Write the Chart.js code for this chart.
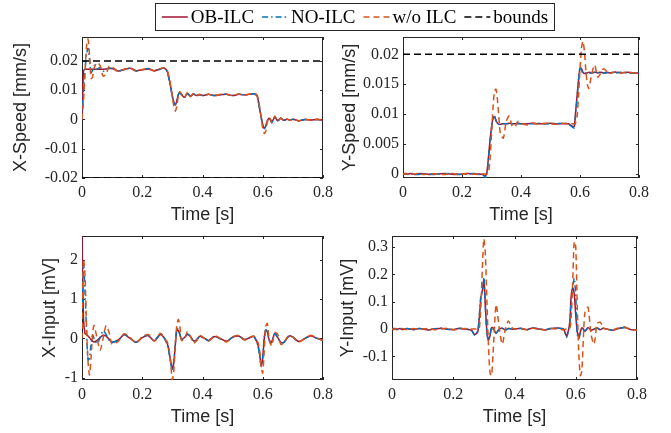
<!DOCTYPE html>
<html>
<head>
<meta charset="utf-8">
<script src="https://cdn.jsdelivr.net/npm/chart.js@4.4.1/dist/chart.umd.min.js"></script>
<style>
  html, body { margin: 0; padding: 0; background: #fff; }
  #wrap { position: relative; width: 671px; height: 433px; }
  canvas { position: absolute; left: 0; top: 0; }
</style>
</head>
<body>
<div id="wrap">
  <canvas id="xs" width="671" height="433"></canvas>
  <canvas id="ys" width="671" height="433"></canvas>
  <canvas id="xi" width="671" height="433"></canvas>
  <canvas id="yi" width="671" height="433"></canvas>
</div>
<script>
// time samples [s] (denser around the steps at 0, 0.3 and 0.6)
const t = [0, 0.005, 0.01, 0.015, 0.02, 0.025, 0.03, 0.035, 0.04, 0.05, 0.06, 0.07, 0.08, 0.09, 0.1,
  0.12, 0.14, 0.16, 0.18, 0.2, 0.22, 0.24, 0.26,
  0.27, 0.28, 0.285, 0.29, 0.295, 0.3, 0.305, 0.31, 0.315, 0.32, 0.325, 0.33, 0.34, 0.35, 0.36, 0.37, 0.38, 0.39, 0.4,
  0.42, 0.44, 0.46, 0.48, 0.5, 0.52, 0.54, 0.56,
  0.57, 0.58, 0.585, 0.59, 0.595, 0.6, 0.605, 0.61, 0.615, 0.62, 0.625, 0.63, 0.64, 0.65, 0.66, 0.67, 0.68, 0.69, 0.7,
  0.72, 0.74, 0.76, 0.78, 0.8];

const xTicks = [0, 0.2, 0.4, 0.6, 0.8];

// X-Speed [mm/s]
const xsOb = [0, 0.0165, 0.0172, 0.0172, 0.0172, 0.0172, 0.0172, 0.0172, 0.0172, 0.0172, 0.0172, 0.0172, 0.0173, 0.0174, 0.0174,
  0.0166, 0.0171, 0.0175, 0.0167, 0.0170, 0.0173, 0.0167, 0.0173,
  0.0176, 0.0170, 0.0158, 0.0135, 0.0108, 0.0080, 0.0058, 0.0050, 0.0065, 0.0085, 0.0092, 0.0085, 0.0076, 0.0089, 0.0080, 0.0087, 0.0082, 0.0085, 0.0082,
  0.0086, 0.0082, 0.0085, 0.0086, 0.0082, 0.0086, 0.0084, 0.0087,
  0.0088, 0.0083, 0.0065, 0.0035, 0.0008, -0.0018, -0.0030, -0.0022, -0.0005, 0.0004, 0.0000, -0.0009, 0.0007, -0.0004, 0.0004, -0.0003, 0.0001, -0.0002, 0.0001,
  -0.0004, 0.0000, -0.0002, 0.0000, -0.0002];
const xsNo = [0, 0.0100, 0.0170, 0.0222, 0.0243, 0.0205, 0.0160, 0.0168, 0.0185, 0.0172, 0.0178, 0.0165, 0.0170, 0.0176, 0.0174,
  0.0165, 0.0171, 0.0175, 0.0166, 0.0170, 0.0174, 0.0167, 0.0172,
  0.0176, 0.0168, 0.0155, 0.0132, 0.0105, 0.0078, 0.0057, 0.0051, 0.0066, 0.0086, 0.0092, 0.0084, 0.0077, 0.0089, 0.0080, 0.0087, 0.0082, 0.0085, 0.0082,
  0.0086, 0.0082, 0.0085, 0.0086, 0.0082, 0.0086, 0.0084, 0.0087,
  0.0088, 0.0082, 0.0062, 0.0032, 0.0005, -0.0020, -0.0032, -0.0022, -0.0004, 0.0005, 0.0000, -0.0010, 0.0007, -0.0004, 0.0004, -0.0003, 0.0001, -0.0002, 0.0001,
  -0.0004, 0.0000, -0.0002, 0.0000, -0.0002];
const xsWo = [0, 0.0060, 0.0160, 0.0250, 0.0275, 0.0220, 0.0140, 0.0145, 0.0175, 0.0195, 0.0185, 0.0148, 0.0155, 0.0182, 0.0180,
  0.0164, 0.0172, 0.0176, 0.0165, 0.0171, 0.0174, 0.0166, 0.0174,
  0.0177, 0.0172, 0.0162, 0.0140, 0.0110, 0.0075, 0.0045, 0.0028, 0.0048, 0.0082, 0.0095, 0.0088, 0.0073, 0.0093, 0.0078, 0.0089, 0.0081, 0.0086, 0.0082,
  0.0086, 0.0081, 0.0086, 0.0086, 0.0082, 0.0087, 0.0083, 0.0088,
  0.0089, 0.0085, 0.0070, 0.0040, 0.0005, -0.0030, -0.0048, -0.0040, -0.0010, 0.0008, 0.0002, -0.0012, 0.0012, -0.0005, 0.0005, -0.0004, 0.0002, -0.0003, 0.0001,
  -0.0005, 0.0001, -0.0002, 0.0001, -0.0002];
const xsTicks = [-0.02, -0.01, 0, 0.01, 0.02];
const xsBounds = [-0.02, 0.02];

// Y-Speed [mm/s]
const ysOb = [0, 0.0001, 0, -0.0001, 0, 0.0001, 0, 0, -0.0001, 0, 0.0001, 0, 0, -0.0001, 0,
  0, 0.0001, 0, -0.0001, 0, 0.0001, 0, 0,
  -0.0001, -0.0003, 0.0005, 0.0030, 0.0056, 0.0078, 0.0093, 0.0096, 0.0090, 0.0085, 0.0083, 0.0083, 0.0084, 0.0084, 0.0085, 0.0084, 0.0084, 0.0085, 0.0084,
  0.0084, 0.0085, 0.0084, 0.0084, 0.0085, 0.0084, 0.0084, 0.0084,
  0.0081, 0.0079, 0.0103, 0.0130, 0.0157, 0.0177, 0.0176, 0.0170, 0.0168, 0.0169, 0.0169, 0.0170, 0.0169, 0.0170, 0.0169, 0.0170, 0.0169, 0.0170, 0.0169,
  0.0170, 0.0169, 0.0170, 0.0169, 0.0169];
const ysNo = [0, 0, 0.0001, 0, -0.0001, 0, 0.0001, 0, 0, -0.0001, 0, 0.0001, 0, 0, -0.0001,
  0, 0, 0.0001, 0, -0.0001, 0, 0.0001, -0.0001,
  0.0000, -0.0006, 0.0002, 0.0027, 0.0054, 0.0077, 0.0093, 0.0097, 0.0089, 0.0084, 0.0083, 0.0083, 0.0084, 0.0084, 0.0084, 0.0084, 0.0085, 0.0084, 0.0084,
  0.0084, 0.0084, 0.0085, 0.0084, 0.0084, 0.0084, 0.0085, 0.0084,
  0.0080, 0.0077, 0.0098, 0.0127, 0.0156, 0.0179, 0.0174, 0.0168, 0.0167, 0.0168, 0.0169, 0.0169, 0.0169, 0.0170, 0.0169, 0.0170, 0.0169, 0.0169, 0.0170,
  0.0169, 0.0170, 0.0169, 0.0169, 0.0170];
const ysWo = [0, 0, 0.0001, 0, -0.0001, 0, 0.0001, 0, 0, 0.0001, 0, -0.0001, 0, 0.0001, 0,
  0, -0.0001, 0.0001, 0, 0, 0.0001, 0, -0.0001,
  0.0000, 0.0000, 0.0000, 0.0002, 0.0025, 0.0065, 0.0110, 0.0138, 0.0142, 0.0125, 0.0095, 0.0068, 0.0060, 0.0088, 0.0097, 0.0080, 0.0079, 0.0088, 0.0085,
  0.0082, 0.0085, 0.0083, 0.0085, 0.0084, 0.0083, 0.0085, 0.0084,
  0.0084, 0.0084, 0.0085, 0.0095, 0.0130, 0.0175, 0.0210, 0.0222, 0.0205, 0.0172, 0.0150, 0.0143, 0.0168, 0.0182, 0.0162, 0.0168, 0.0176, 0.0172, 0.0168,
  0.0171, 0.0169, 0.0170, 0.0169, 0.0170];
const ysTicks = [0, 0.005, 0.01, 0.015, 0.02];
const ysBounds = [0.02];

// X-Input [mV]
const xiOb = [2.6, 0.5, 0.12, 0.1, 0.06, 0.02, -0.03, -0.07, -0.09, -0.05, 0.02, 0.08, 0.06, -0.02, -0.1,
  -0.04, 0.09, 0.0, -0.1, 0.02, 0.07, -0.06, 0.1,
  0.04, -0.08, -0.18, -0.38, -0.6, -0.78, -0.6, -0.15, 0.22, 0.2, 0.1, -0.02, 0.02, 0.1, 0.05, -0.06, -0.04, 0.05, 0.03,
  -0.05, 0.05, -0.01, -0.07, 0.03, 0.06, -0.03, 0.03,
  0.05, -0.08, -0.2, -0.42, -0.7, -0.5, 0.0, 0.2, 0.17, 0.0, -0.1, -0.08, 0.12, 0.02, -0.1, -0.1, 0.0, 0.07, 0.03,
  -0.08, 0.0, 0.07, 0.0, -0.05];
const xiNo = [0.5, 1.9, 1.2, 0.2, -0.55, -0.5, -0.15, 0.08, 0.0, -0.13, 0.02, 0.2, 0.1, -0.05, -0.1,
  -0.05, 0.1, 0.0, -0.1, 0.03, 0.08, -0.06, 0.12,
  0.05, -0.1, -0.2, -0.42, -0.65, -0.82, -0.55, -0.1, 0.25, 0.22, 0.1, -0.03, 0.03, 0.11, 0.05, -0.07, -0.05, 0.05, 0.03,
  -0.06, 0.06, -0.01, -0.08, 0.03, 0.06, -0.03, 0.03,
  0.06, -0.09, -0.22, -0.45, -0.72, -0.45, 0.05, 0.22, 0.18, 0.0, -0.12, -0.1, 0.13, 0.02, -0.1, -0.11, 0.0, 0.07, 0.03,
  -0.08, 0.0, 0.07, 0.0, -0.05];
const xiWo = [0.0, 2.0, 1.6, 0.3, -0.6, -0.93, -0.5, 0.1, 0.33, 0.0, -0.3, 0.0, 0.33, 0.15, -0.15,
  -0.08, 0.12, 0.02, -0.12, 0.04, 0.1, -0.07, 0.13,
  0.05, -0.06, -0.12, -0.32, -0.7, -1.05, -0.8, -0.1, 0.35, 0.48, 0.3, -0.05, -0.02, 0.18, 0.05, -0.12, -0.06, 0.08, 0.04,
  -0.07, 0.07, -0.01, -0.09, 0.04, 0.08, -0.04, 0.04,
  0.06, -0.05, -0.12, -0.32, -0.75, -0.88, -0.3, 0.3, 0.38, 0.05, -0.12, -0.19, 0.15, 0.1, -0.15, -0.12, 0.02, 0.08, 0.03,
  -0.09, 0.0, 0.08, 0.01, -0.05];
const xiTicks = [-1, 0, 1, 2];

// Y-Input [mV]
const yiOb = [0, 0.002, 0.001, -0.002, 0, 0.002, 0, -0.002, 0, 0.002, 0, -0.002, 0, 0.002, 0,
  -0.003, 0, 0.003, 0, -0.002, 0.003, 0, -0.005,
  -0.02, -0.01, 0.04, 0.11, 0.14, 0.18, 0.08, -0.01, -0.04, -0.025, 0.005, 0.005, -0.015, 0.0, 0.003, -0.003, 0.002, 0.0, 0.0,
  0.003, -0.002, 0.004, 0.0, -0.003, 0.002, 0.004, 0.0,
  -0.025, 0.02, 0.12, 0.15, 0.13, 0.05, -0.01, -0.025, -0.01, 0.005, 0.0, -0.008, 0.005, -0.004, 0.0, 0.004, -0.002, 0.003, 0.0,
  -0.004, 0.002, 0.006, -0.002, -0.003];
const yiNo = [0, 0.001, 0.002, -0.001, -0.002, 0.001, 0.002, -0.001, 0, 0.002, -0.001, -0.002, 0.001, 0.002, 0,
  -0.002, 0.001, 0.003, -0.001, -0.002, 0.002, 0.001, -0.006,
  -0.023, -0.005, 0.05, 0.12, 0.14, 0.19, 0.08, -0.015, -0.04, -0.02, 0.007, 0.0, -0.015, 0.0, 0.003, -0.004, 0.002, 0.001, 0.0,
  0.002, -0.003, 0.004, 0.001, -0.003, 0.003, 0.003, -0.001,
  -0.03, 0.02, 0.1, 0.15, 0.186, 0.12, -0.02, -0.036, -0.015, 0.003, -0.004, -0.006, 0.004, -0.005, 0.0, 0.004, -0.003, 0.003, 0.0,
  -0.004, 0.003, 0.006, -0.002, -0.003];
const yiWo = [0, -0.002, 0, 0.002, 0, -0.002, 0, 0.002, 0, -0.002, 0, 0.002, 0, -0.002, 0,
  0.002, -0.002, 0, 0.003, -0.002, 0, 0.002, 0,
  0.0, 0.0, 0.0, 0.08, 0.22, 0.33, 0.27, 0.1, -0.06, -0.16, -0.17, -0.09, 0.09, 0.005, -0.055, 0.0, 0.03, 0.008, 0.0,
  0.002, -0.002, 0.003, 0.0, -0.002, 0.002, 0.0, -0.002,
  0.0, 0.0, 0.04, 0.17, 0.32, 0.3, 0.08, -0.09, -0.17, -0.15, -0.03, 0.06, 0.08, -0.02, -0.055, 0.02, 0.025, 0.005, 0.0,
  -0.003, 0.004, 0.008, -0.002, -0.003];
const yiTicks = [-0.1, 0, 0.1, 0.2, 0.3];

const RED = '#A2142F', BLUE = '#0072BD', ORANGE = '#D95319', INK = '#262626';
const tickFont = { family: '"Liberation Serif", serif', size: 16 };
const titleFont = { family: '"Liberation Sans", Arial, sans-serif', size: 18 };

function series(label, vals, color, dash, order) {
  return {
    label: label,
    data: t.map((x, i) => ({ x: x, y: vals[i] })),
    borderColor: color, backgroundColor: color,
    borderWidth: 1.5, borderDash: dash,
    pointRadius: 0, tension: 0.25, order: order
  };
}

function boundLines(vals) {
  return vals.map((b, i) => ({
    label: 'bounds', noLegend: i > 0,
    data: [{ x: xTicks[0], y: b }, { x: xTicks[xTicks.length - 1], y: b }],
    borderColor: '#000', backgroundColor: '#000',
    borderWidth: 1.5, borderDash: [7, 4], pointRadius: 0, order: 0
  }));
}

// MATLAB style box with inward ticks, drawn under the data
const boxPlugin = {
  id: 'matlabBox',
  beforeDatasetsDraw(chart) {
    const { ctx, chartArea: a, scales } = chart;
    ctx.save();
    ctx.strokeStyle = INK;
    ctx.lineWidth = 1;
    ctx.setLineDash([]);
    ctx.beginPath();
    scales.x.ticks.forEach(tk => {
      const px = Math.round(scales.x.getPixelForValue(tk.value)) + 0.5;
      ctx.moveTo(px, a.bottom); ctx.lineTo(px, a.bottom - 3);
      ctx.moveTo(px, a.top); ctx.lineTo(px, a.top + 3);
    });
    scales.y.ticks.forEach(tk => {
      const py = Math.round(scales.y.getPixelForValue(tk.value)) + 0.5;
      ctx.moveTo(a.left, py); ctx.lineTo(a.left + 3, py);
      ctx.moveTo(a.right, py); ctx.lineTo(a.right - 3, py);
    });
    ctx.stroke();
    ctx.strokeRect(a.left + 0.5, a.top + 0.5, a.right - a.left - 1, a.bottom - a.top - 1);
    ctx.restore();
  }
};

// shared legend above the top row
const legendPlugin = {
  id: 'topLegend',
  afterDraw(chart) {
    const ctx = chart.ctx;
    const items = chart.data.datasets.filter(d => !d.noLegend);
    const sample = 26, gap = 3, sep = 8;
    const box = { l: 155, r: 555, t: 3, b: 31 };
    ctx.save();
    ctx.font = '19px "Liberation Serif", serif';
    const widths = items.map(d => sample + gap + ctx.measureText(d.label).width);
    const total = widths.reduce((s, w) => s + w, 0) + sep * (items.length - 1);
    ctx.fillStyle = '#fff';
    ctx.fillRect(box.l, box.t, box.r - box.l, box.b - box.t);
    ctx.strokeStyle = INK;
    ctx.lineWidth = 1;
    ctx.strokeRect(box.l + 0.5, box.t + 0.5, box.r - box.l - 1, box.b - box.t - 1);
    let x = (box.l + box.r - total) / 2;
    const y = 17;
    items.forEach((d, i) => {
      ctx.strokeStyle = d.borderColor;
      ctx.lineWidth = 1.5;
      ctx.setLineDash(d.borderDash || []);
      ctx.beginPath();
      ctx.moveTo(x, y); ctx.lineTo(x + sample, y);
      ctx.stroke();
      ctx.setLineDash([]);
      ctx.fillStyle = '#000';
      ctx.textBaseline = 'middle';
      ctx.fillText(d.label, x + sample + gap, y + 1);
      x += widths[i] + sep;
    });
    ctx.restore();
  }
};

function makePlot(id, area, yTitleX, yTitle, yMin, yMax, yTicks, datasets, extraPlugins) {
  const padLeft = yTitleX - titleFont.size * 1.2 / 2;
  const xHeight = 48;
  return new Chart(document.getElementById(id), {
    type: 'line',
    data: { datasets: datasets },
    options: {
      responsive: false,
      animation: false,
      layout: { padding: { left: padLeft, top: area.t, right: 671 - area.r, bottom: 433 - area.b - xHeight } },
      plugins: { legend: { display: false }, tooltip: { enabled: false } },
      scales: {
        x: {
          type: 'linear', min: xTicks[0], max: xTicks[xTicks.length - 1],
          afterBuildTicks: s => { s.ticks = xTicks.map(v => ({ value: v })); },
          afterFit: s => { s.height = xHeight; },
          grid: { display: false, drawTicks: false }, border: { display: false },
          ticks: { padding: 5, font: tickFont, color: INK, maxRotation: 0, autoSkip: false, callback: v => String(v) },
          title: { display: true, text: 'Time [s]', font: titleFont, color: INK, padding: 0 }
        },
        y: {
          type: 'linear', min: yMin, max: yMax,
          afterBuildTicks: s => { s.ticks = yTicks.map(v => ({ value: v })); },
          afterFit: s => { s.width = area.l - padLeft; },
          grid: { display: false, drawTicks: false }, border: { display: false },
          ticks: { padding: 4, font: tickFont, color: INK, autoSkip: false, callback: v => String(v) },
          title: { display: true, text: yTitle, font: titleFont, color: INK, padding: 0 }
        }
      }
    },
    plugins: [boxPlugin].concat(extraPlugins || [])
  });
}

function threeLines(ob, no, wo) {
  return [
    series('OB-ILC', ob, RED, [], 3),
    series('NO-ILC', no, BLUE, [6, 3, 1.5, 3], 2),
    series('w/o ILC', wo, ORANGE, [6, 4], 1)
  ];
}

makePlot('xs', { l: 82, t: 37, r: 323, b: 178 }, 21.5, 'X-Speed [mm/s]', -0.02, 0.0282, xsTicks,
  threeLines(xsOb, xsNo, xsWo).concat(boundLines(xsBounds)), [legendPlugin]);
makePlot('ys', { l: 403, t: 37, r: 639, b: 178 }, 350, 'Y-Speed [mm/s]', -0.00067, 0.0229, ysTicks,
  threeLines(ysOb, ysNo, ysWo).concat(boundLines(ysBounds)));
makePlot('xi', { l: 82, t: 236, r: 323, b: 380 }, 50, 'X-Input [mV]', -1.056, 2.6, xiTicks,
  threeLines(xiOb, xiNo, xiWo));
makePlot('yi', { l: 392, t: 236, r: 637, b: 380 }, 348, 'Y-Input [mV]', -0.186, 0.34, yiTicks,
  threeLines(yiOb, yiNo, yiWo));
</script>
</body>
</html>
